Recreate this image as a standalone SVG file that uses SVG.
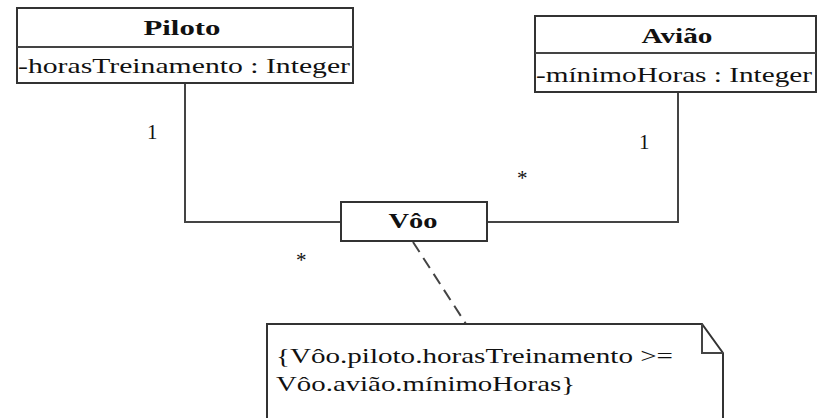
<svg xmlns="http://www.w3.org/2000/svg" width="817" height="418" viewBox="0 0 817 418">
<style>
.box{fill:#fff;stroke:#333;stroke-width:2}
.ln{fill:none;stroke:#444;stroke-width:2}
.t{font-family:"Liberation Serif",serif;fill:#111}
.title{font-size:21px;font-weight:bold;text-anchor:middle}
.attr{font-size:22px}
.mult{font-size:21px}
</style>
<rect width="817" height="418" fill="#fff"/>
<g id="connectors">
<polyline class="ln" points="185,83 185,222 341,222"/>
<polyline class="ln" points="487,222 678,222 678,92"/>
<line class="ln" x1="413" y1="242" x2="466" y2="324" stroke-dasharray="12,7"/>
<text class="t mult" x="147" y="139">1</text>
<text class="t mult" x="296" y="267">*</text>
<text class="t mult" x="639" y="149">1</text>
<text class="t mult" x="517" y="185">*</text>
</g>
<g id="piloto">
<rect class="box" x="17" y="8" width="336" height="75"/>
<line class="ln" x1="17" y1="47" x2="353" y2="47" stroke="#333"/>
<text class="t title" x="182" y="35" textLength="77" lengthAdjust="spacingAndGlyphs">Piloto</text>
<text class="t attr" x="18" y="73" textLength="332" lengthAdjust="spacingAndGlyphs">-horasTreinamento : Integer</text>
</g>
<g id="aviao">
<rect class="box" x="535" y="16" width="281" height="76"/>
<line class="ln" x1="535" y1="53" x2="816" y2="53" stroke="#333"/>
<text class="t title" x="677" y="43" textLength="71" lengthAdjust="spacingAndGlyphs">Avião</text>
<text class="t attr" x="536" y="82" textLength="276" lengthAdjust="spacingAndGlyphs">-mínimoHoras : Integer</text>
</g>
<g id="voo">
<rect class="box" x="341" y="202" width="146" height="39"/>
<text class="t title" x="413" y="228" textLength="49" lengthAdjust="spacingAndGlyphs">Vôo</text>
</g>
<g id="note">
<path class="box" d="M267,430 L267,324 L702,324 L723,353 L723,430"/>
<path class="ln" d="M702,324 L702,353 L723,353" stroke="#333"/>
<text class="t attr" x="276" y="363" textLength="397" lengthAdjust="spacingAndGlyphs">{Vôo.piloto.horasTreinamento &gt;=</text>
<text class="t attr" x="276" y="391" textLength="299" lengthAdjust="spacingAndGlyphs">Vôo.avião.mínimoHoras}</text>
</g>
</svg>
